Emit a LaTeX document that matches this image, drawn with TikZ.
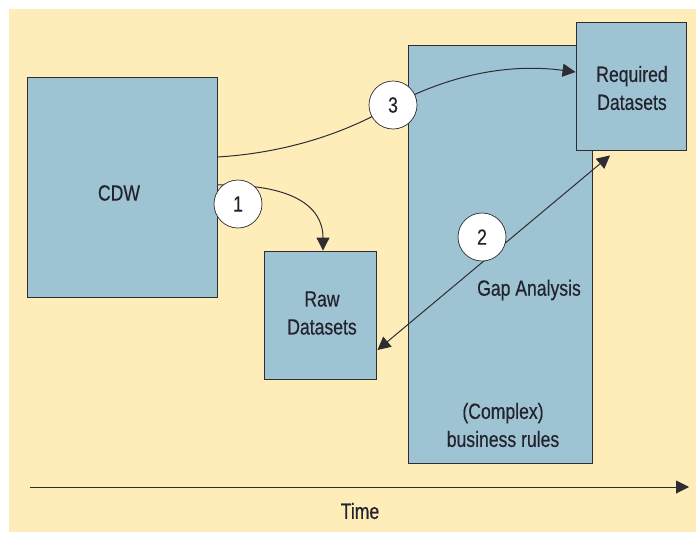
\documentclass[tikz,border=0pt]{standalone}
\usepackage{fontspec}
\setmainfont{Liberation Sans}[FakeStretch=0.8,FakeBold=0.4]
\usetikzlibrary{arrows.meta,calc}
\definecolor{bgyellow}{RGB}{254,236,185}
\definecolor{boxblue}{RGB}{158,195,210}
\definecolor{edge}{RGB}{45,45,50}
\definecolor{txt}{RGB}{35,35,45}
\tikzset{
  blk/.style={draw=edge, line width=0.9pt, fill=boxblue, inner sep=0pt},
  lbl/.style={font=\fontsize{22}{28}\selectfont, text=txt, align=center, inner sep=0pt},
  numc/.style={circle, draw=edge, line width=0.7pt, fill=white, minimum size=48pt, inner sep=0pt, font=\fontsize{22}{25}\selectfont, text=txt},
  conn/.style={draw=edge, line width=1pt},
  tip/.style={-{Triangle[length=13pt,width=13pt]}}
}
\begin{document}
\begin{tikzpicture}[x=1pt,y=-1pt]
\useasboundingbox (0,0) rectangle (696,533);
\fill[bgyellow] (9,9) rectangle (696,532);
% boxes
\node[blk, minimum width=190pt, minimum height=220pt] (cdw) at (122,187) {};
\node[blk, minimum width=184pt, minimum height=418pt] (gap) at (500,254) {};
\node[blk, minimum width=110pt, minimum height=128pt] (req) at (631,86) {};
\node[blk, minimum width=112pt, minimum height=128pt] (raw) at (320,315) {};
% labels
\node[lbl] (tcdw) at (119,193) {CDW};
\node[lbl] (treq) at (632,88) {Required\\Datasets};
\node[lbl] (traw) at (322,313) {Raw\\Datasets};
\node[lbl] (tgap) at (529,290) {Gap Analysis};
\node[lbl] (tcx) at (503,425) {(Complex)\\business rules};
% connectors
\coordinate (s3) at ($(cdw.east)+(0,-30)$);
\coordinate (m3) at (393,105);
\coordinate (e3) at ($(req.west)+(0,-14)$);
\draw[conn, tip] (s3) .. controls (300,152) and (360,125) .. (m3)
  .. controls (440,80) and (500,62) .. (e3);
\coordinate (s1) at ($(cdw.east)+(0,-2)$);
\coordinate (e1) at ($(raw.north)+(3,0)$);
\draw[conn, tip] (s1) .. controls (290,184) and (323,205) .. (e1);
\coordinate (a2) at ($(raw.east)+(1,35)$);
\coordinate (b2) at ($(req.south)+(-21,5)$);
\draw[conn, {Triangle[length=13pt,width=13pt]}-{Triangle[length=13pt,width=13pt]}] (a2) -- (b2);
% numbered circles
\node[numc] (n1) at (238,204) {1};
\node[numc] (n3) at (393,105) {3};
\node[numc] (n2) at (482,237) {2};
% time axis
\coordinate (t0) at (30,487);
\coordinate (t1) at (689,487);
\draw[conn, tip] (t0) -- (t1);
\node[lbl] (ttime) at (360,511) {Time};
\end{tikzpicture}
\end{document}
